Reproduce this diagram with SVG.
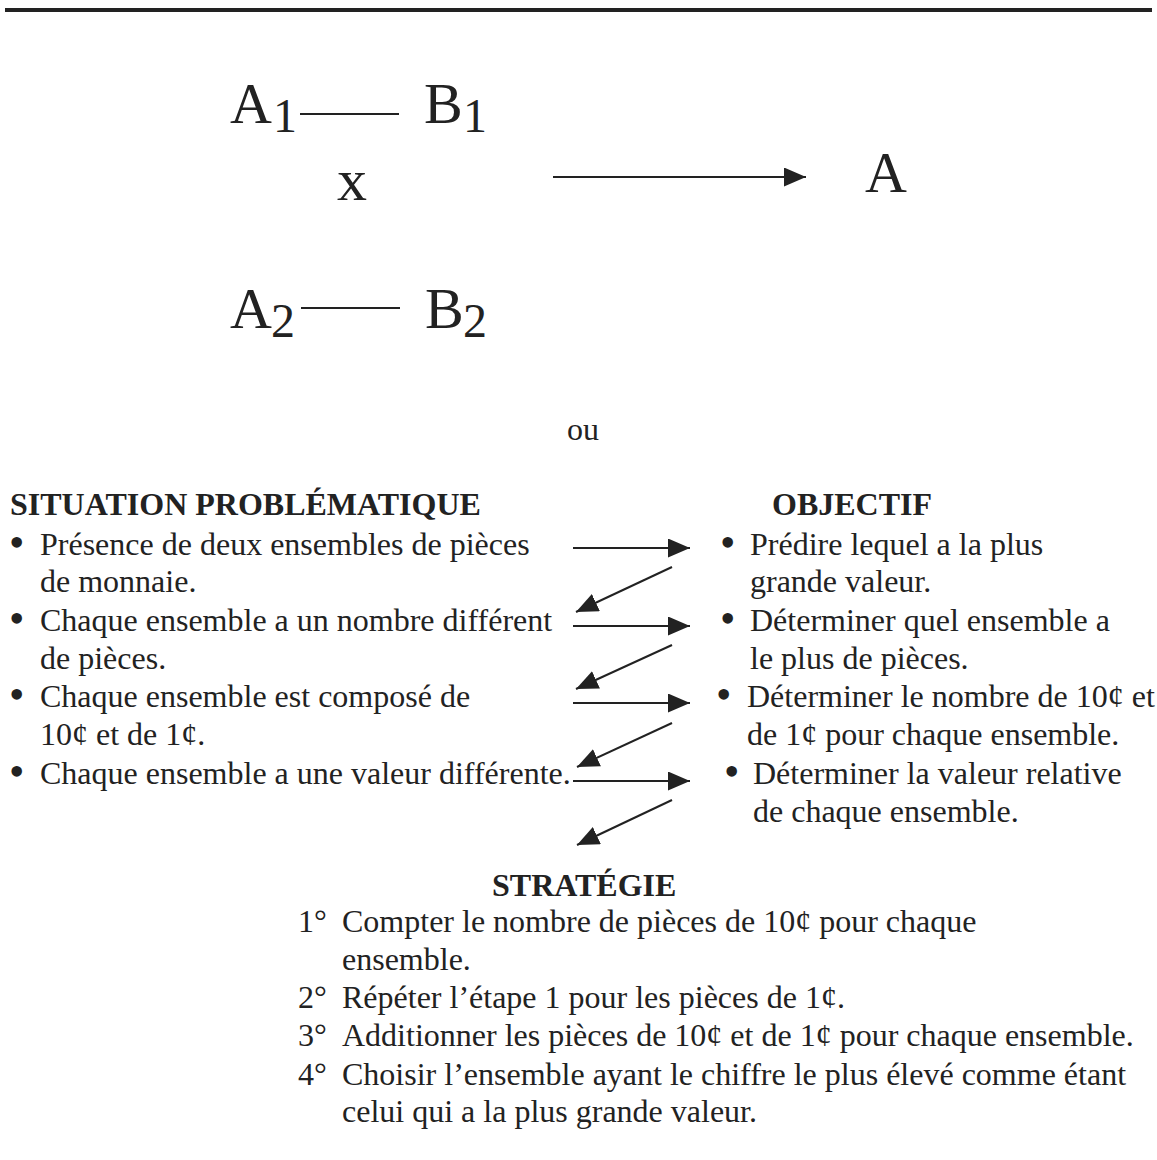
<svg xmlns="http://www.w3.org/2000/svg" width="1157" height="1160" viewBox="0 0 1157 1160">
<style>
text{font-family:"Liberation Serif","Times New Roman",serif;fill:#222}
.b{font-size:32px}
.h{font-size:32px;font-weight:bold}
.big{font-size:58px}
.sub{font-size:48px}
.bu{font-size:44px}
.ln{stroke:#222;stroke-width:2;fill:none}
</style>
<defs>
<marker id="ah2" viewBox="0 0 22 19" refX="22" refY="9.5" markerWidth="22" markerHeight="19" markerUnits="userSpaceOnUse" orient="auto">
<path d="M0,0 L22,9.5 L0,19 z" fill="#222"/>
</marker>
</defs>
<rect x="5" y="8" width="1147" height="4" fill="#222"/>
<g id="formula">
<text class="big" x="230" y="123">A<tspan class="sub" dy="9" x="273">1</tspan></text>
<line class="ln" x1="300" y1="114" x2="399" y2="114"/>
<text class="big" x="424" y="123">B<tspan class="sub" dy="9" x="463">1</tspan></text>
<text class="big" x="337" y="200" style="font-size:60px">x</text>
<text class="big" x="230" y="328">A<tspan class="sub" dy="9" x="271">2</tspan></text>
<line class="ln" x1="301" y1="308" x2="400" y2="308"/>
<text class="big" x="425" y="328">B<tspan class="sub" dy="9" x="463">2</tspan></text>
<text class="big" x="865" y="192">A</text>
</g>
<text id="ou" class="b" x="567" y="440">ou</text>
<g id="situation">
<text class="h" x="10" y="515">SITUATION PROBLÉMATIQUE</text>
<text class="b" x="9" y="557"><tspan class="bu">•</tspan><tspan x="40" y="555">Présence de deux ensembles de pièces</tspan></text>
<text class="b" x="40" y="592">de monnaie.</text>
<text class="b" x="9" y="633"><tspan class="bu">•</tspan><tspan x="40" y="631">Chaque ensemble a un nombre différent</tspan></text>
<text class="b" x="40" y="669">de pièces.</text>
<text class="b" x="9" y="709"><tspan class="bu">•</tspan><tspan x="40" y="707">Chaque ensemble est composé de</tspan></text>
<text class="b" x="40" y="745">10¢ et de 1¢.</text>
<text class="b" x="9" y="786"><tspan class="bu">•</tspan><tspan x="40" y="784">Chaque ensemble a une valeur différente.</tspan></text>
</g>
<g id="objectif">
<text class="h" x="772" y="515">OBJECTIF</text>
<text class="b" x="720" y="557"><tspan class="bu">•</tspan><tspan x="750" y="555">Prédire lequel a la plus</tspan></text>
<text class="b" x="750" y="592">grande valeur.</text>
<text class="b" x="720" y="633"><tspan class="bu">•</tspan><tspan x="750" y="631">Déterminer quel ensemble a</tspan></text>
<text class="b" x="750" y="669">le plus de pièces.</text>
<text class="b" x="716" y="709"><tspan class="bu">•</tspan><tspan x="747" y="707">Déterminer le nombre de 10¢ et</tspan></text>
<text class="b" x="747" y="745">de 1¢ pour chaque ensemble.</text>
<text class="b" x="724" y="786"><tspan class="bu">•</tspan><tspan x="753" y="784">Déterminer la valeur relative</tspan></text>
<text class="b" x="753" y="822">de chaque ensemble.</text>
</g>
<g id="strategie">
<text class="h" x="492" y="896">STRATÉGIE</text>
<text class="b" x="298" y="932">1°<tspan x="342">Compter le nombre de pièces de 10¢ pour chaque</tspan></text>
<text class="b" x="342" y="970">ensemble.</text>
<text class="b" x="298" y="1008">2°<tspan x="342">Répéter l’étape 1 pour les pièces de 1¢.</tspan></text>
<text class="b" x="298" y="1046">3°<tspan x="342">Additionner les pièces de 10¢ et de 1¢ pour chaque ensemble.</tspan></text>
<text class="b" x="298" y="1085">4°<tspan x="342">Choisir l’ensemble ayant le chiffre le plus élevé comme étant</tspan></text>
<text class="b" x="342" y="1122">celui qui a la plus grande valeur.</text>
</g>
<g id="connectors">
<line class="ln" x1="553" y1="177" x2="806" y2="177" marker-end="url(#ah2)"/>
<line class="ln" x1="573" y1="548" x2="690" y2="548" marker-end="url(#ah2)"/>
<line class="ln" x1="573" y1="626" x2="690" y2="626" marker-end="url(#ah2)"/>
<line class="ln" x1="573" y1="703" x2="690" y2="703" marker-end="url(#ah2)"/>
<line class="ln" x1="573" y1="781" x2="690" y2="781" marker-end="url(#ah2)"/>
<line class="ln" x1="672" y1="567" x2="576" y2="612" marker-end="url(#ah2)"/>
<line class="ln" x1="672" y1="645" x2="576" y2="689" marker-end="url(#ah2)"/>
<line class="ln" x1="672" y1="723" x2="577" y2="767" marker-end="url(#ah2)"/>
<line class="ln" x1="672" y1="800" x2="577" y2="845" marker-end="url(#ah2)"/>
</g>
</svg>
